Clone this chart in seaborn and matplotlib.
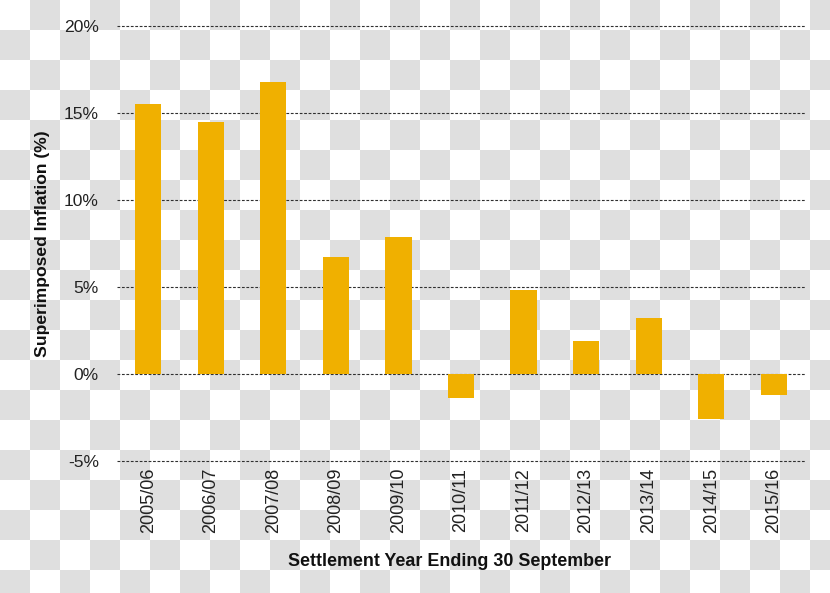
import numpy as np
import pandas as pd
import matplotlib
matplotlib.use("Agg")
import matplotlib.pyplot as plt
import seaborn as sns
from matplotlib.ticker import FuncFormatter

years = ["2005/06", "2006/07", "2007/08", "2008/09", "2009/10", "2010/11",
         "2011/12", "2012/13", "2013/14", "2014/15", "2015/16"]
inflation = [15.5, 14.5, 16.8, 6.7, 7.9, -1.4, 4.8, 1.9, 3.2, -2.6, -1.2]
y_ticks = [-5, 0, 5, 10, 15, 20]

df = pd.DataFrame({"year": years, "inflation": inflation})

sns.set_theme(style="white")
plt.rcParams["font.family"] = ["Liberation Sans", "DejaVu Sans"]

W, H = 830, 593
fig = plt.figure(figsize=(W / 100, H / 100), dpi=100)
fig.patch.set_alpha(0)

# transparent-style checkerboard background
yy, xx = np.mgrid[0:H, 0:W]
board = ((yy // 30 + xx // 30) % 2).astype(float)
img = np.where(board[..., None] == 1, np.array([0.878, 0.878, 0.878]), np.array([1.0, 1.0, 1.0]))
fig.figimage(img, xo=0, yo=0, origin="upper", zorder=-10)

ax = fig.add_axes([117 / W, 1 - 461 / H, (805 - 117) / W, (461 - 26) / H])
ax.patch.set_visible(False)

sns.barplot(data=df, x="year", y="inflation", color="#F0B000", saturation=1,
            width=0.42, linewidth=0, edgecolor="none", ax=ax, zorder=3)

ax.set_ylim(-5, 20)
ax.set_yticks(y_ticks)
ax.yaxis.set_major_formatter(FuncFormatter(lambda v, p: f"{int(v)}%"))
ax.set_axisbelow(True)
ax.yaxis.grid(True, linestyle=(0, (2.5, 1.5)), color="#303030", linewidth=0.8)
for gl in ax.yaxis.get_gridlines():
    gl.set_clip_on(False)
ax.xaxis.grid(False)
for s in ax.spines.values():
    s.set_visible(False)

ax.tick_params(axis="y", length=0, pad=13, labelsize=12.6, labelcolor="#222222")
ax.tick_params(axis="x", length=0, pad=5, labelsize=13, labelcolor="#222222",
               rotation=90)

ax.set_xlabel("Settlement Year Ending 30 September", fontsize=12.9,
              fontweight="bold", color="#111111")
ax.set_ylabel("Superimposed Inflation (%)", fontsize=12.6,
              fontweight="bold", color="#111111")
ax.xaxis.set_label_coords(0.4826, -0.232)
ax.xaxis.label.set_va("center")
ax.yaxis.set_label_coords(-0.109, 0.5)
ax.yaxis.label.set_va("center")

fig.savefig("out.png", dpi=100)
